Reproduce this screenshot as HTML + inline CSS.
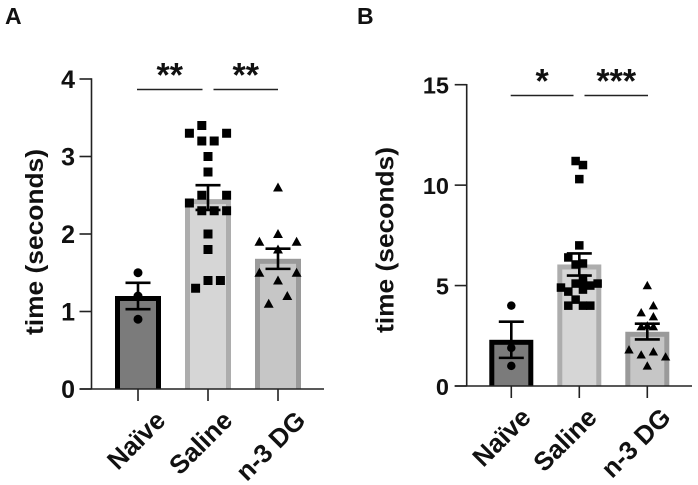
<!DOCTYPE html>
<html>
<head>
<meta charset="utf-8">
<style>
html,body{margin:0;padding:0;background:#fff;}
svg{display:block;font-family:"Liberation Sans",sans-serif;}
text{fill:#111;}
</style>
</head>
<body>
<svg id="chart" width="698" height="485" viewBox="0 0 698 485" xmlns="http://www.w3.org/2000/svg">
<g id="panel-a"></g>
<g id="panel-b"></g>
</svg>
<script>
const categories = ['Naïve', 'Saline', 'n-3 DG'];

const ticksA = [0, 1, 2, 3, 4];
const barsA = [1.2, 2.45, 1.68];
const errHighA = [1.37, 2.63, 1.81];
const errLowA = [1.03, 2.31, 1.55];
const naiveA = [1.5, 1.2, 0.9];
const naiveSlotsA = [0, 0, 0];
const salineA = [3.4, 3.3, 3.3, 3.2, 3.2, 3.0, 2.8, 2.5, 2.5, 2.4, 2.3, 2.3, 2.3, 2.0, 1.8, 1.4, 1.4, 1.3];
const salineSlotsA = [-1, -3, 3, -1, 1, 0, 0, -1, 3, -3, -1, 1, 3, 0, 0, 0, 2, -2];
const dgA = [2.6, 2.0, 1.9, 1.9, 1.8, 1.5, 1.5, 1.4, 1.2, 1.1];
const dgSlotsA = [0, 0, -3, 3, 0, -3, 3, 0, 1.5, -1.5];
const starsA = ['**', '**'];

const ticksB = [0, 5, 10, 15];
const barsB = [2.3, 6.05, 2.7];
const errHighB = [3.2, 6.6, 3.1];
const errLowB = [1.4, 5.5, 2.32];
const naiveB = [4.0, 1.9, 1.0];
const naiveSlotsB = [0, 0, 0];
const salineB = [11.2, 11.0, 10.3, 7.0, 6.4, 6.05, 6.1, 5.35, 5.1, 5.1, 4.9, 4.7, 5.0, 5.1, 4.8, 4.3, 4.0, 4.0, 4.0];
const salineSlotsB = [-0.5, 0.5, 0, 0, -1.5, -0.5, 0.5, 0.5, -0.5, 0.5, -2.5, -1.5, 1.5, 2.5, 0.5, -0.5, -1.5, 0.5, 1.5];
const dgB = [5.0, 4.0, 3.65, 3.45, 3.0, 2.95, 2.95, 1.8, 1.55, 1.7, 1.45, 1.0];
const dgSlotsB = [0, 1, -1, 1, 0, -1, 1, -3, -1, 1, 3, 0];
const starsB = ['*', '***'];

const NS = 'http://www.w3.org/2000/svg';
function make(parent, tag, attrs, txt) {
  const el = document.createElementNS(NS, tag);
  for (const k in attrs) el.setAttribute(k, attrs[k]);
  if (txt !== undefined) el.textContent = txt;
  parent.appendChild(el);
  return el;
}
const barStyles = [
  {fill: '#7b7b7b', stroke: '#000000'},
  {fill: '#d6d6d6', stroke: '#adadad'},
  {fill: '#c6c6c6', stroke: '#9a9a9a'}
];

function drawPanel(cfg) {
  const g = document.getElementById(cfg.id);
  const yPx = v => cfg.y0 + (cfg.yTop - cfg.y0) * (v / cfg.yMax);
  const xPx = i => cfg.xFirst + i * cfg.xStep;

  const letter = make(g, 'text', {x: cfg.letterX, y: 24, 'font-size': 23, 'font-weight': 'bold'}, cfg.letter);
  
  

  const title = make(g, 'text', {
    transform: 'translate(' + cfg.titleX + ',' + cfg.titleY + ') rotate(-90)',
    'text-anchor': 'middle', 'font-size': 25, 'font-weight': 'bold', 'textLength': 186, 'lengthAdjust': 'spacingAndGlyphs'
  }, 'time (seconds)');
  
  

  // bars: border on three sides, fill running down to the axis
  categories.forEach((c, i) => {
    const w = cfg.barW, sw = 5;
    const top = yPx(cfg.bars[i]);
    const outer = make(g, 'rect', {
      x: xPx(i) - w / 2, y: top, width: w, height: cfg.y0 - top,
      fill: barStyles[i].stroke
    });
    
    
    const inner = make(g, 'rect', {
      x: xPx(i) - w / 2 + sw, y: top + sw, width: w - 2 * sw, height: Math.max(0, cfg.y0 - top - sw),
      fill: barStyles[i].fill
    });
    
    
  });

  // points
  cfg.points.forEach((series, i) => {
    series.values.forEach((v, j) => {
      const px = xPx(i) + series.slots[j] * cfg.slotW;
      const py = yPx(v);
      const r = cfg.mark / 2;
      let m;
      if (i === 0) {
        m = make(g, 'circle', {cx: px, cy: py, r: r, fill: '#000'});
      } else if (i === 1) {
        m = make(g, 'rect', {x: px - r, y: py - r, width: cfg.mark, height: cfg.mark, fill: '#000'});
      } else {
        const t = r * 1.1;
        m = make(g, 'polygon', {
          points: px + ',' + (py - t) + ' ' + (px + t) + ',' + (py + t - 1) + ' ' + (px - t) + ',' + (py + t - 1),
          fill: '#000'
        });
      }
      
      
    });
  });

  // error bars
  categories.forEach((c, i) => {
    const hi = yPx(cfg.errHigh[i]), lo = yPx(cfg.errLow[i]), x = xPx(i), cw = 12.5;
    const eb = make(g, 'path', {
      d: 'M' + (x - cw) + ' ' + hi + 'H' + (x + cw) + 'M' + x + ' ' + hi + 'V' + lo + 'M' + (x - cw) + ' ' + lo + 'H' + (x + cw),
      stroke: '#000', 'stroke-width': 2.6, fill: 'none'
    });
    
    
  });

  // y axis
  const yAxis = make(g, 'line', {x1: cfg.xAxis, x2: cfg.xAxis, y1: yPx(cfg.yMax) - 0.75, y2: cfg.y0, stroke: '#222', 'stroke-width': 1.6});
  
  
  cfg.ticks.forEach(t => {
    const tick = make(g, 'line', {x1: cfg.xAxis - 12, x2: cfg.xAxis, y1: yPx(t), y2: yPx(t), stroke: '#222', 'stroke-width': 1.6});
    
    
    const lab = make(g, 'text', {x: cfg.labelX, y: yPx(t) + 9, 'text-anchor': 'end', 'font-size': cfg.tickFont, 'font-weight': 'bold'}, String(t));
    
    
  });

  // x axis
  const xAxis = make(g, 'line', {x1: cfg.xAxis - 12, x2: cfg.xEnd, y1: cfg.y0, y2: cfg.y0, stroke: '#222', 'stroke-width': 1.6});
  
  
  categories.forEach((c, i) => {
    const tick = make(g, 'line', {x1: xPx(i), x2: xPx(i), y1: cfg.y0, y2: cfg.y0 + 12, stroke: '#222', 'stroke-width': 1.6});
    
    
    const ax = xPx(i) + cfg.catDx + cfg.catNudge[i], ay = cfg.y0 + cfg.catDy;
    const lab = make(g, 'text', {
      transform: 'translate(' + ax + ',' + ay + ') rotate(-45)',
      'text-anchor': 'end', 'font-size': 26, 'font-weight': 'bold'
    }, c);
    
    
  });

  // significance
  cfg.sig.forEach((s, k) => {
    const line = make(g, 'line', {x1: s.a, x2: s.b, y1: cfg.sigY, y2: cfg.sigY, stroke: '#222', 'stroke-width': 1.5});
    
    
    const st = make(g, 'text', {x: (s.a + s.b) / 2, y: cfg.sigY + cfg.starDy, 'text-anchor': 'middle', 'font-size': 34, 'font-weight': 'bold'}, cfg.stars[k]);
    
    
  });
}

drawPanel({
  id: 'panel-a', letter: 'A', letterX: 5, titleX: 43, titleY: 242,
  y0: 389, yTop: 79, yMax: 4, xFirst: 138, xStep: 70, xAxis: 91.5, xEnd: 324, labelX: 75, tickFont: 25,
  barW: 46, mark: 9, slotW: 6.2, catDx: 29, catDy: 33, catNudge: [0, -3, 0],
  ticks: ticksA, bars: barsA, errHigh: errHighA, errLow: errLowA,
  points: [
    {values: naiveA, slots: naiveSlotsA},
    {values: salineA, slots: salineSlotsA},
    {values: dgA, slots: dgSlotsA}
  ],
  stars: starsA, sigY: 89.5, starDy: -3,
  sig: [{a: 137, b: 202.5}, {a: 213.5, b: 278}]
});
drawPanel({
  id: 'panel-b', letter: 'B', letterX: 357, titleX: 393.5, titleY: 240,
  y0: 386, yTop: 84.7, yMax: 15, xFirst: 511.3, xStep: 68, xAxis: 466.7, xEnd: 692, labelX: 449, tickFont: 23.5,
  barW: 44, mark: 8.5, slotW: 7.33, catDx: 28, catDy: 33, catNudge: [-7, -9, -3],
  ticks: ticksB, bars: barsB, errHigh: errHighB, errLow: errLowB,
  points: [
    {values: naiveB, slots: naiveSlotsB},
    {values: salineB, slots: salineSlotsB},
    {values: dgB, slots: dgSlotsB.map(s => s * 6.1 / 7.33)}
  ],
  stars: starsB, sigY: 95.5, starDy: -3,
  sig: [{a: 510.7, b: 573.5}, {a: 584.5, b: 648}]
});
</script>
</body>
</html>
